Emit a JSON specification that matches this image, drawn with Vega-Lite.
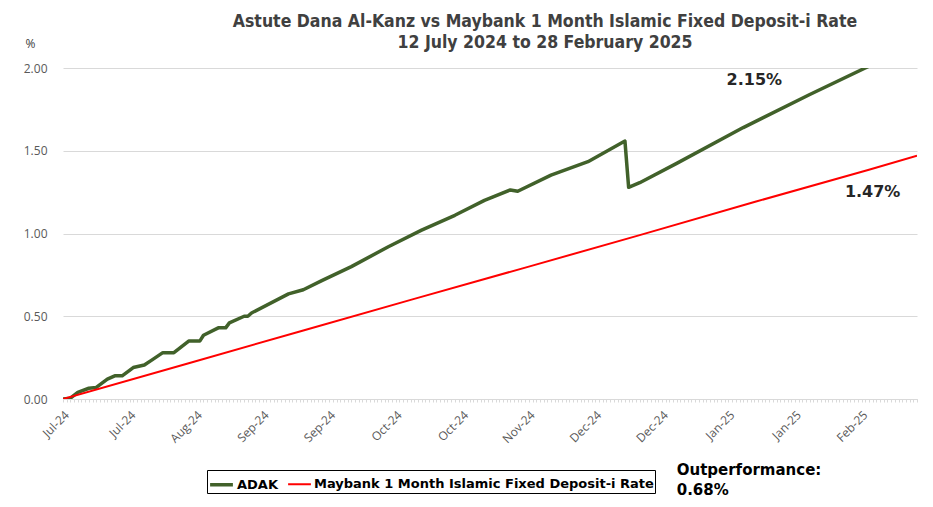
{
  "$schema": "https://vega.github.io/schema/vega-lite/v6.json",
  "autosize": "none",
  "width": 854,
  "height": 331,
  "padding": {"left": 63, "top": 68, "right": 16, "bottom": 108},
  "background": "white",
  "view": {"stroke": null},
  "title": {
    "text": ["Astute Dana Al-Kanz vs Maybank 1 Month Islamic Fixed Deposit-i Rate", "12 July 2024 to 28 February 2025"],
    "anchor": "middle",
    "frame": "group",
    "dx": 55,
    "font": "DejaVu Sans Condensed",
    "fontSize": 17.5,
    "fontWeight": "bold",
    "color": "#404040",
    "lineHeight": 21,
    "offset": -14
  },
  "datasets": {
    "series": [
      {"date": "2024-07-12", "series": "ADAK", "value": 0},
      {"date": "2024-07-14", "series": "ADAK", "value": 0.005},
      {"date": "2024-07-16", "series": "ADAK", "value": 0.04},
      {"date": "2024-07-19", "series": "ADAK", "value": 0.065},
      {"date": "2024-07-21", "series": "ADAK", "value": 0.07},
      {"date": "2024-07-24", "series": "ADAK", "value": 0.12},
      {"date": "2024-07-26", "series": "ADAK", "value": 0.14},
      {"date": "2024-07-28", "series": "ADAK", "value": 0.14},
      {"date": "2024-07-31", "series": "ADAK", "value": 0.19},
      {"date": "2024-08-03", "series": "ADAK", "value": 0.205},
      {"date": "2024-08-05", "series": "ADAK", "value": 0.235},
      {"date": "2024-08-08", "series": "ADAK", "value": 0.28},
      {"date": "2024-08-11", "series": "ADAK", "value": 0.28},
      {"date": "2024-08-15", "series": "ADAK", "value": 0.35},
      {"date": "2024-08-18", "series": "ADAK", "value": 0.35},
      {"date": "2024-08-19", "series": "ADAK", "value": 0.385},
      {"date": "2024-08-23", "series": "ADAK", "value": 0.43},
      {"date": "2024-08-25", "series": "ADAK", "value": 0.43},
      {"date": "2024-08-26", "series": "ADAK", "value": 0.46},
      {"date": "2024-08-30", "series": "ADAK", "value": 0.5},
      {"date": "2024-08-31", "series": "ADAK", "value": 0.5},
      {"date": "2024-09-01", "series": "ADAK", "value": 0.52},
      {"date": "2024-09-11", "series": "ADAK", "value": 0.635},
      {"date": "2024-09-15", "series": "ADAK", "value": 0.66},
      {"date": "2024-09-20", "series": "ADAK", "value": 0.715},
      {"date": "2024-09-28", "series": "ADAK", "value": 0.8},
      {"date": "2024-10-08", "series": "ADAK", "value": 0.92},
      {"date": "2024-10-17", "series": "ADAK", "value": 1.02},
      {"date": "2024-10-26", "series": "ADAK", "value": 1.11},
      {"date": "2024-11-03", "series": "ADAK", "value": 1.2},
      {"date": "2024-11-10", "series": "ADAK", "value": 1.263},
      {"date": "2024-11-12", "series": "ADAK", "value": 1.255},
      {"date": "2024-11-21", "series": "ADAK", "value": 1.353},
      {"date": "2024-12-01", "series": "ADAK", "value": 1.434},
      {"date": "2024-12-11", "series": "ADAK", "value": 1.559},
      {"date": "2024-12-12", "series": "ADAK", "value": 1.279},
      {"date": "2024-12-15", "series": "ADAK", "value": 1.307},
      {"date": "2024-12-25", "series": "ADAK", "value": 1.424},
      {"date": "2025-01-12", "series": "ADAK", "value": 1.64},
      {"date": "2025-01-30", "series": "ADAK", "value": 1.84},
      {"date": "2025-02-14", "series": "ADAK", "value": 2.0},
      {"date": "2025-02-28", "series": "ADAK", "value": 2.15},
      {"date": "2024-07-12", "series": "Maybank 1 Month Islamic Fixed Deposit-i Rate", "value": 0},
      {"date": "2024-08-15", "series": "Maybank 1 Month Islamic Fixed Deposit-i Rate", "value": 0.216},
      {"date": "2024-09-15", "series": "Maybank 1 Month Islamic Fixed Deposit-i Rate", "value": 0.414},
      {"date": "2024-10-15", "series": "Maybank 1 Month Islamic Fixed Deposit-i Rate", "value": 0.605},
      {"date": "2024-11-15", "series": "Maybank 1 Month Islamic Fixed Deposit-i Rate", "value": 0.8},
      {"date": "2024-12-15", "series": "Maybank 1 Month Islamic Fixed Deposit-i Rate", "value": 0.99},
      {"date": "2025-01-15", "series": "Maybank 1 Month Islamic Fixed Deposit-i Rate", "value": 1.19},
      {"date": "2025-02-15", "series": "Maybank 1 Month Islamic Fixed Deposit-i Rate", "value": 1.385},
      {"date": "2025-02-28", "series": "Maybank 1 Month Islamic Fixed Deposit-i Rate", "value": 1.47}
    ],
    "labels": [
      {"date": "2025-01-15", "value": 1.93, "label": "2.15%"},
      {"date": "2025-02-16", "value": 1.253, "label": "1.47%"}
    ],
    "notes": [
      {"date": "2024-12-25", "value": -0.43, "label": "Outperformance:"},
      {"date": "2024-12-25", "value": -0.55, "label": "0.68%"}
    ]
  },
  "encoding": {
    "x": {
      "field": "date",
      "type": "temporal",
      "scale": {"type": "utc", "domain": [{"year": 2024, "month": 7, "date": 12, "utc": true}, {"year": 2025, "month": 2, "date": 28, "utc": true}]},
      "axis": {
        "title": null,
        "grid": false,
        "tickCount": {"interval": "day", "step": 1},
        "labelExpr": "(round((datum.value - utc(2024,6,12)) / 86400000) % 18 == 0) ? utcFormat(datum.value, '%b-%y') : ''",
        "labelOverlap": false,
        "labelAngle": -45,
        "labelFont": "Open Sans",
        "labelFontSize": 12,
        "labelColor": "#595959",
        "labelPadding": 7,
        "tickColor": "#d9d9d9",
        "tickSize": 3,
        "domainColor": "#d9d9d9"
      }
    },
    "y": {
      "field": "value",
      "type": "quantitative",
      "scale": {"domain": [0, 2], "nice": false, "zero": true},
      "axis": {
        "values": [0, 0.5, 1, 1.5, 2],
        "format": ".2f",
        "title": "%",
        "titleAngle": 0,
        "titleX": -33,
        "titleY": -25,
        "titleAlign": "center",
        "titleBaseline": "middle",
        "titleFont": "Open Sans",
        "titleFontSize": 12,
        "titleFontWeight": "normal",
        "titleColor": "#404040",
        "labelFont": "Open Sans",
        "labelFontSize": 12,
        "labelColor": "#595959",
        "labelPadding": 16,
        "ticks": false,
        "domain": false,
        "grid": true,
        "gridColor": "#d9d9d9"
      }
    }
  },
  "layer": [
    {
      "data": {"name": "series"},
      "mark": {"type": "line", "clip": true, "strokeJoin": "round"},
      "encoding": {
        "color": {
          "field": "series",
          "type": "nominal",
          "scale": {"domain": ["ADAK", "Maybank 1 Month Islamic Fixed Deposit-i Rate"], "range": ["#41612a", "#ff0000"]},
          "legend": {
            "title": null,
            "orient": "none",
            "legendX": 144,
            "legendY": 402,
            "direction": "horizontal",
            "strokeColor": "#000000",
            "padding": 1,
            "symbolType": "stroke",
            "symbolSize": 520,
            "symbolStrokeWidth": 3,
            "labelFont": "DejaVu Sans",
            "labelFontSize": 13,
            "labelFontWeight": "bold",
            "labelColor": "#000000",
            "labelOffset": 2,
            "columnPadding": 6,
            "labelLimit": 400
          }
        },
        "strokeWidth": {
          "field": "series",
          "type": "nominal",
          "scale": {"domain": ["ADAK", "Maybank 1 Month Islamic Fixed Deposit-i Rate"], "range": [3.5, 2]},
          "legend": null
        }
      }
    },
    {
      "data": {"name": "labels"},
      "mark": {"type": "text", "font": "DejaVu Sans", "fontSize": 16, "fontWeight": "bold", "color": "#262626", "align": "center", "baseline": "middle"},
      "encoding": {"text": {"field": "label"}}
    },
    {
      "data": {"name": "notes"},
      "mark": {"type": "text", "font": "DejaVu Sans", "fontSize": 15, "fontWeight": "bold", "color": "#000000", "align": "left", "baseline": "middle", "clip": false},
      "encoding": {"text": {"field": "label"}}
    }
  ]
}
